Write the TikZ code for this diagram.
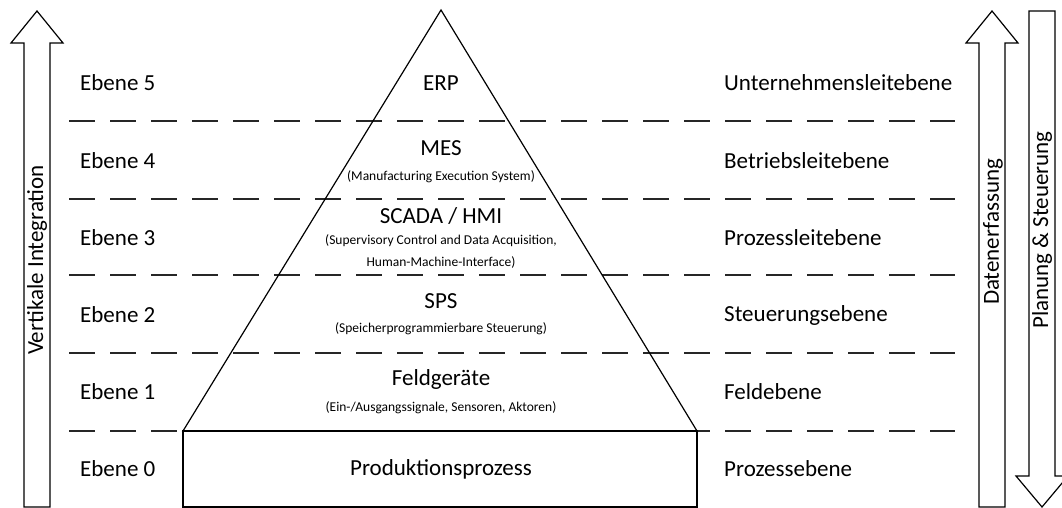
\documentclass[tikz,border=0pt]{standalone}
\usepackage{fontspec}
\setmainfont{Carlito}
\begin{document}
\begin{tikzpicture}[x=1pt,y=-1pt,
  big/.style={font=\fontsize{23}{27}\selectfont, inner sep=0pt},
  small/.style={font=\fontsize{13.5}{16}\selectfont, inner sep=0pt},
  level/.style={big, anchor=west},
  sep/.style={line width=1.6pt, dash pattern=on 26pt off 15pt, draw=black!85},
  outline/.style={line width=1.2pt, line join=miter}]
\useasboundingbox (0,0) rectangle (1062,508);

% Trennlinien
\foreach \y in {121,199,275,353,431}
  \draw[sep] (69,\y) -- (955,\y);

% Pyramide und Prozess
\coordinate (apex) at (441,10);
\coordinate (bl) at (183,431);
\coordinate (br) at (697,431);
\coordinate (bottom) at (697,507);
\draw[outline] (bl) -- (apex) -- (br) -- cycle;
\draw[outline] (bl) rectangle (bottom);

% Pfeile
\draw[outline] (24,507) -- (24,43) -- (11,43) -- (37,11) -- (63,43) -- (50,43) -- (50,507) -- cycle;
\draw[outline] (979,507) -- (979,43) -- (966,43) -- (992,11) -- (1018,43) -- (1005,43) -- (1005,507) -- cycle;
\draw[outline] (1029,11) -- (1029,476) -- (1016,476) -- (1042,507) -- (1068,476) -- (1055,476) -- (1055,11) -- cycle;

\node[big, rotate=90] (vi) at (37,260) {Vertikale Integration};
\node[big, rotate=90] (de) at (993,232) {Datenerfassung};
\node[big, rotate=90] (ps) at (1042,230) {Planung \& Steuerung};

% Ebenen links
\node[level] (e5) at (80,83) {Ebene 5};
\node[level] (e4) at (80,161) {Ebene 4};
\node[level] (e3) at (80,238) {Ebene 3};
\node[level] (e2) at (80,315) {Ebene 2};
\node[level] (e1) at (80,392) {Ebene 1};
\node[level] (e0) at (80,469) {Ebene 0};

% Ebenen rechts
\node[level] (r5) at (724,83) {Unternehmensleitebene};
\node[level] (r4) at (724,161) {Betriebsleitebene};
\node[level] (r3) at (724,238) {Prozessleitebene};
\node[level] (r2) at (724,315) {Steuerungsebene};
\node[level] (r1) at (724,392) {Feldebene};
\node[level] (r0) at (724,469) {Prozessebene};

% Systeme
\node[big] (erp) at (441,83) {ERP};
\node[big] (mes) at (441,148) {MES};
\node[small] (mesl) at (441,177) {(Manufacturing Execution System)};
\node[big] (scada) at (441,216) {SCADA / HMI};
\node[small] (scadal) at (441,241) {(Supervisory Control and Data Acquisition,};
\node[small] (hmil) at (441,262) {Human-Machine-Interface)};
\node[big] (sps) at (441,301) {SPS};
\node[small] (spsl) at (441,329) {(Speicherprogrammierbare Steuerung)};
\node[big] (feld) at (441,379) {Feldgeräte};
\node[small] (feldl) at (441,408) {(Ein-/Ausgangssignale, Sensoren, Aktoren)};
\node[big] (prod) at (441,469) {Produktionsprozess};
\end{tikzpicture}
\end{document}
